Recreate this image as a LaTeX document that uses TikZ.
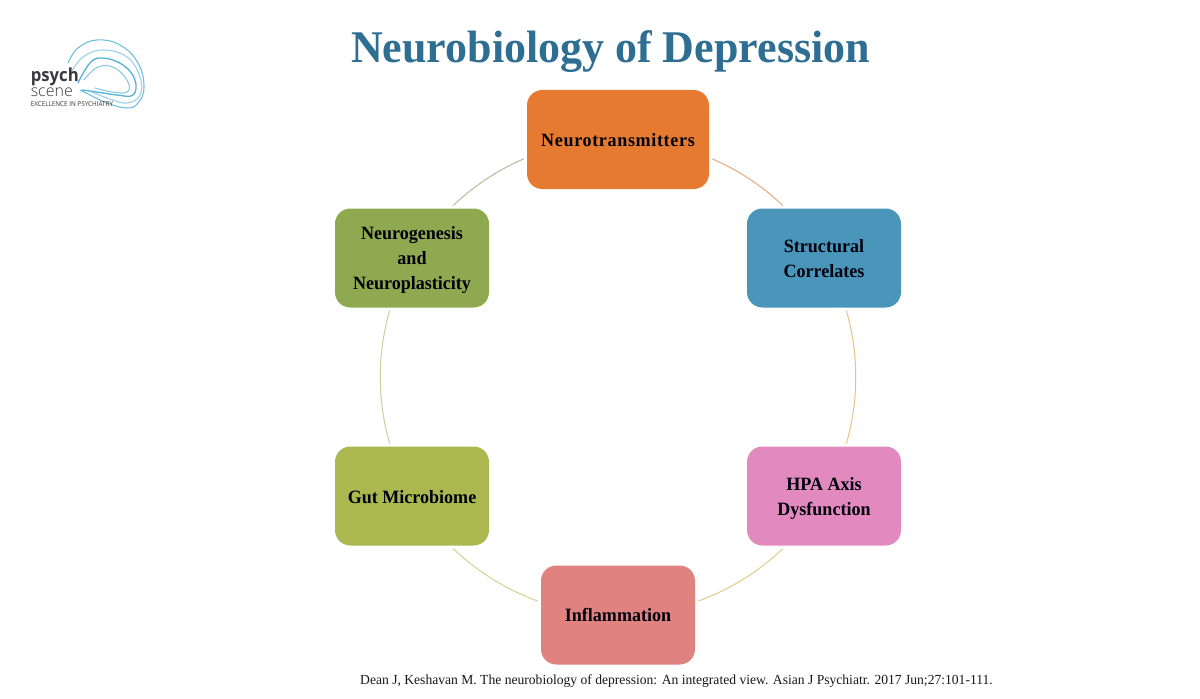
\documentclass[tikz,border=0pt]{standalone}
\usepackage{fontspec}
\setmainfont{Liberation Serif}
\newfontfamily\logofont[FakeStretch=0.93]{Open Sans}
\newfontfamily\logolight{Open Sans Light}
\newfontfamily\titlefont[FakeStretch=0.97]{Liberation Serif}
\newfontfamily\stagefont[FakeStretch=0.96]{Liberation Serif}
\newfontfamily\widestagefont[FakeStretch=0.96,LetterSpace=3.5]{Liberation Serif}
\newfontfamily\sourcefont[FakeStretch=0.98]{Liberation Serif}
\usetikzlibrary{backgrounds}
\definecolor{cOrange}{HTML}{E57A30}
\definecolor{cBlue}{HTML}{4A96BA}
\definecolor{cPink}{HTML}{E28ABF}
\definecolor{cRed}{HTML}{E0827F}
\definecolor{cLime}{HTML}{ABB84F}
\definecolor{cGreen}{HTML}{8FA950}
\definecolor{cTitle}{HTML}{2E6E93}
\definecolor{cLogo}{HTML}{58B2D8}
\definecolor{cLogoText}{HTML}{3A3A3C}
\definecolor{arcA}{HTML}{E3AC80}
\definecolor{arcB}{HTML}{E9C288}
\definecolor{arcC}{HTML}{DFCB90}
\definecolor{arcD}{HTML}{D5D28F}
\definecolor{arcE}{HTML}{C9D29C}
\definecolor{arcF}{HTML}{B6BE96}
\newcommand\dropto[1]{\rule{0pt}{#1pt}}
\tikzset{
  stage/.style={rounded corners=11.5pt,minimum height=74.25pt,minimum width=115.5pt,
    inner sep=0pt,align=center,text=black!95!blue,
    font=\fontsize{14.1}{18.75}\stagefont\bfseries,
    preaction={draw=white,line width=4.5pt}},
  arcline/.style={line width=0.75pt,bend left=30,looseness=0.912},
  swoosh/.style={draw=cLogo,line width=0.8pt,line cap=round,smooth,tension=0.7},
  logotext/.style={text=cLogoText,anchor=base west,inner sep=0pt},
}
\begin{document}
\begin{tikzpicture}[x=0.75pt,y=-0.75pt]
\useasboundingbox (0,0) rectangle (1200,699);
% title and source
\node[text=cTitle,font=\fontsize{34}{40}\titlefont\bfseries,anchor=base,inner sep=0pt] (title) at (610.5,62.5) {Neurobiology of Depression};
\node[text=black!90,font=\fontsize{10.4}{12}\sourcefont,anchor=base,inner sep=0pt] (source) at (676.5,684) {Dean J, Keshavan M. The neurobiology of depression: An integrated view. Asian J Psychiatr. 2017 Jun;27:101-111.};
% logo
\draw[swoosh,opacity=0.85] plot coordinates {(68,63) (78,48) (97,40) (120,45) (138,63) (144,87) (138,103) (127,108) (107,103) (90,95) (80,90)};
\draw[swoosh,opacity=0.6] plot coordinates {(71,73) (83,57) (103,50) (127,57) (140,77) (140,95) (127,103) (110,99) (92,92)};
\draw[swoosh,line width=1pt] plot coordinates {(78,83) (90,63) (103,58) (123,65) (135,80) (133,95) (117,95) (97,92) (82,90)};
\draw[swoosh,opacity=0.7] plot coordinates {(84,80) (98,67) (115,68) (128,82) (127,92) (112,92) (95,88)};
\node[logotext,font=\fontsize{13.5}{14}\logofont\bfseries] (psych) at (30.5,82) {psych};
\node[logotext,font=\fontsize{12}{14}\logolight] (scene) at (30.5,97) {scene};
\node[logotext,font=\fontsize{5.1}{5}\logofont] (tagline) at (30.5,106.5) {EXCELLENCE IN PSYCHIATRY};
% stages
\node[stage,fill=cOrange,minimum width=136.5pt,font=\fontsize{14.1}{18.75}\widestagefont\bfseries] (n1) at (618,139.5) {\dropto{11}Neurotransmitters};
\node[stage,fill=cBlue] (n2) at (824,258) {\dropto{11}Structural\\Correlates};
\node[stage,fill=cPink] (n3) at (824,496) {\dropto{13.3}HPA Axis\\Dysfunction};
\node[stage,fill=cRed] (n4) at (618,615) {Inflammation};
\node[stage,fill=cLime] (n5) at (412,496) {\dropto{11}Gut Microbiome};
\node[stage,fill=cGreen] (n6) at (412,258) {\dropto{12.7}Neurogenesis\\and\\Neuroplasticity};
% ring
\begin{scope}[on background layer]
\fill[white] (0,0) rectangle (1200,699);
\draw[arcline,draw=arcA] (n1.center) to (n2.center);
\draw[arcline,draw=arcB] (n2.center) to (n3.center);
\draw[arcline,draw=arcC] (n3.center) to (n4.center);
\draw[arcline,draw=arcD] (n4.center) to (n5.center);
\draw[arcline,draw=arcE] (n5.center) to (n6.center);
\draw[arcline,draw=arcF] (n6.center) to (n1.center);
\end{scope}
\end{tikzpicture}
\end{document}
